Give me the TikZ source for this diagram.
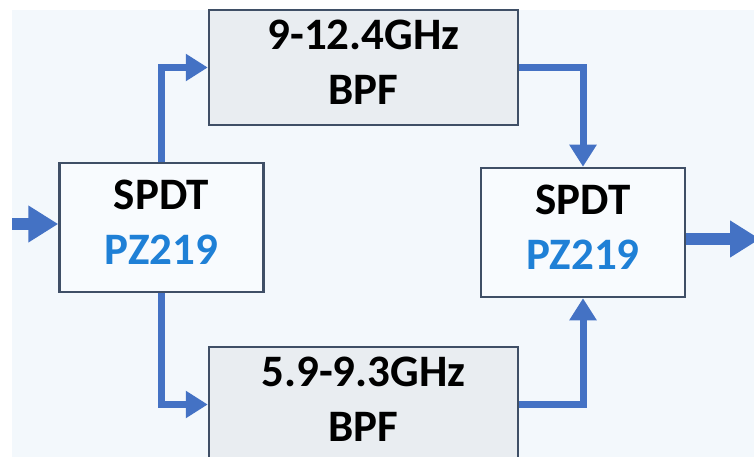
\documentclass[tikz,border=0pt]{standalone}
\usepackage{fontspec}
\setmainfont{Carlito}
\usetikzlibrary{positioning, arrows.meta}
\definecolor{paper}{HTML}{F3F8FC}
\definecolor{frame}{HTML}{3F4F66}
\definecolor{filtfill}{HTML}{E9EDF1}
\definecolor{swfill}{HTML}{F8FBFE}
\definecolor{wire}{HTML}{4472C4}
\definecolor{partno}{HTML}{1F80D6}

\begin{document}
\begin{tikzpicture}[x=1pt, y=-1pt,
    font=\fontsize{45}{55}\selectfont\bfseries,
    block/.style={draw=frame, line width=2.5pt, inner sep=0pt, align=center, text depth=10pt},
    switchbox/.style={block, fill=swfill, minimum width=204pt, minimum height=129pt},
    filterbox/.style={block, fill=filtfill, minimum width=309pt, minimum height=115pt},
    link/.style={wire, line width=7pt, -{Triangle[width=26pt, length=22pt]}},
    port/.style={wire, line width=12pt, -{Triangle[width=35pt, length=30pt]}}]
  % Frame and background
  \clip (0,0) rectangle (754,457);
  \fill[paper] (12,10) rectangle (754,457);

  % Blocks
  \node[switchbox] (spdtin)  at (161.5,227.5) {SPDT\\\textcolor{partno}{PZ219}};
  \node[filterbox] (bpfhi)   at (363.5,67.5)  {9-12.4GHz\\BPF};
  \node[filterbox] (bpflo)   at (363.5,404.5) {5.9-9.3GHz\\BPF};
  \node[switchbox] (spdtout) at (583,232.5)   {SPDT\\\textcolor{partno}{PZ219}};

  % Ports
  \coordinate (inpt)  at (12,224);
  \coordinate (outpt) at (760,239);

  % Signal paths
  \draw[port] (inpt) -- (inpt -| spdtin.west);
  \draw[link] (spdtin.north) |- (bpfhi.west);
  \draw[link] (spdtin.south) |- (bpflo.west);
  \draw[link] (bpfhi.east) -| (spdtout.north);
  \draw[link] (bpflo.east) -| (spdtout.south);
  \draw[port] (outpt -| spdtout.east) -- (outpt);
\end{tikzpicture}
\end{document}
